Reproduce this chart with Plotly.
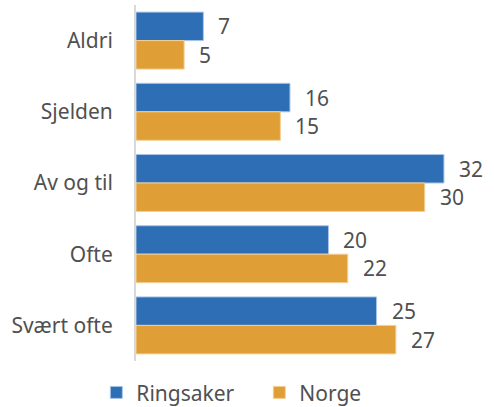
import plotly.graph_objects as go

categories = ["Aldri", "Sjelden", "Av og til", "Ofte", "Svært ofte"]
ringsaker = [7, 16, 32, 20, 25]
norge = [5, 15, 30, 22, 27]

BLUE = "#2E6EB4"
ORANGE = "#E09E36"
TEXT = "#505050"
FONT = "Noto Sans"
SIZE = 21

fig = go.Figure()
fig.add_trace(go.Bar(
    y=categories, x=ringsaker, name="Ringsaker", orientation="h",
    marker=dict(color=BLUE, line=dict(color="#A9C6E8", width=1)),
))
fig.add_trace(go.Bar(
    y=categories, x=norge, name="Norge", orientation="h",
    marker=dict(color=ORANGE, line=dict(color="#F3CF95", width=1)),
))

# value labels to the right of each bar
for vals, shift in ((ringsaker, 14.2), (norge, -14.2)):
    for cat, v in zip(categories, vals):
        fig.add_annotation(
            x=v, y=cat, text=str(v), showarrow=False,
            xanchor="left", xshift=13, yshift=shift,
            font=dict(family=FONT, size=SIZE, color=TEXT),
        )

fig.update_layout(
    width=494, height=407,
    margin=dict(l=136, r=10, t=5, b=46, autoexpand=False),
    paper_bgcolor="white", plot_bgcolor="white",
    barmode="group", bargap=0.2, bargroupgap=0.0,
    font=dict(family=FONT, size=SIZE, color=TEXT),
    showlegend=True,
    legend=dict(
        orientation="h", xref="container", yref="container",
        x=0.195, xanchor="left", y=0.035, yanchor="middle",
        font=dict(family=FONT, size=SIZE, color=TEXT),
        entrywidth=118, entrywidthmode="pixels", traceorder="normal",
    ),
    xaxis=dict(range=[0, 36.16], visible=False, fixedrange=True),
    yaxis=dict(
        autorange="reversed", showline=True, linecolor="#D9D9D9", linewidth=2,
        showgrid=False, ticks="", ticklabelstandoff=17,
        tickfont=dict(family=FONT, size=SIZE, color=TEXT),
    ),
)

fig.write_html("out.html")
